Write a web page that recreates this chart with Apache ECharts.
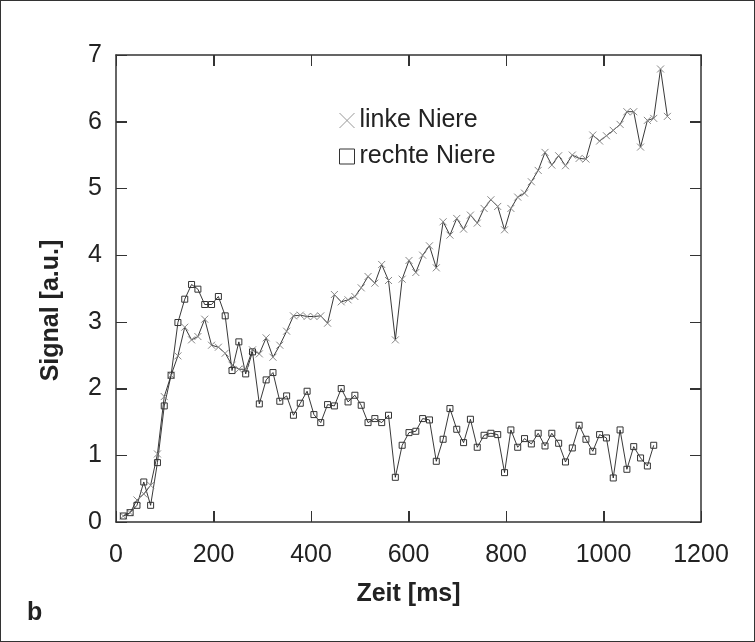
<!DOCTYPE html>
<html>
<head>
<meta charset="utf-8">
<script src="https://cdn.jsdelivr.net/npm/echarts@6/dist/echarts.min.js"></script>
<style>
html,body{margin:0;padding:0;background:#fff}
#wrap{position:relative;width:755px;height:642px}
#c{width:755px;height:642px}
#frame{position:absolute;left:0;top:0;width:753px;height:640px;border:1px solid #333;pointer-events:none}
</style>
</head>
<body>
<div id="wrap"><div id="c"></div><div id="frame"></div></div>
<script>
const times = [15,29,43,57,71,85,99,113,127,141,155,168,182,196,210,224,238,252,266,280,294,308,322,336,350,364,378,392,406,420,434,448,462,476,490,503,517,531,545,559,573,587,601,615,629,643,657,671,685,699,713,727,741,755,769,783,797,810,824,838,852,866,880,894,908,922,936,950,964,978,992,1006,1020,1034,1048,1062,1076,1090,1103,1117,1131];
const linke = [0.09,0.14,0.33,0.42,0.55,1.02,1.88,2.2,2.49,2.92,2.73,2.78,3.04,2.65,2.62,2.53,2.35,2.29,2.29,2.58,2.52,2.76,2.47,2.65,2.86,3.09,3.10,3.08,3.08,3.09,2.98,3.41,3.30,3.33,3.38,3.51,3.68,3.58,3.86,3.62,2.73,3.64,3.92,3.74,4.0,4.14,3.81,4.50,4.30,4.55,4.39,4.60,4.48,4.70,4.83,4.73,4.38,4.70,4.87,4.93,5.10,5.27,5.54,5.35,5.49,5.34,5.50,5.45,5.44,5.80,5.71,5.79,5.87,5.96,6.15,6.15,5.62,6.02,6.05,6.79,6.08];
const rechte = [0.09,0.14,0.25,0.6,0.25,0.89,1.74,2.2,2.99,3.34,3.56,3.49,3.26,3.26,3.38,3.09,2.27,2.70,2.22,2.55,1.77,2.13,2.24,1.81,1.89,1.60,1.78,1.96,1.61,1.49,1.76,1.74,2.0,1.80,1.90,1.75,1.49,1.55,1.49,1.60,0.67,1.15,1.34,1.36,1.55,1.53,0.91,1.24,1.70,1.39,1.19,1.54,1.12,1.30,1.33,1.31,0.74,1.38,1.12,1.25,1.17,1.33,1.14,1.33,1.18,0.90,1.11,1.45,1.24,1.06,1.31,1.26,0.66,1.38,0.79,1.13,0.96,0.84,1.15];
const xTickValues = [200, 400, 600, 800, 1000];
const yTickValues = [1, 2, 3, 4, 5, 6];
const seriesNames = ['linke Niere', 'rechte Niere'];
const xTitle = 'Zeit [ms]';
const yTitle = 'Signal [a.u.]';
const panelLabel = 'b';

const FONT = '"Liberation Sans", Arial, Helvetica, sans-serif';
const crossPath = 'path://M0,0L10,10M10,0L0,10';
const axisCol = '#333';
const xRange = [0, 1200, 200];
const yRange = [0, 7, 1];
const TICK_LEN = 11;

function mkAxis(range, pos, extra) {
  const a = {
    type: 'value', min: range[0], max: range[1], interval: range[2], position: pos,
    axisLine: {show: true, onZero: false, lineStyle: {color: axisCol, width: 1.5}},
    axisTick: {show: true, inside: true, length: TICK_LEN, lineStyle: {color: axisCol, width: 1}},
    splitLine: {show: false},
    axisLabel: {show: false}
  };
  return Object.assign(a, extra || {});
}

// tick marks on all four sides, placed through the axes' own scales
// each item: [x, y, direction]  direction 0 = up, 1 = down, 2 = right, 3 = left
const tickItems = [];
xTickValues.forEach(v => { tickItems.push([v, yRange[0], 0]); tickItems.push([v, yRange[1], 1]); });
yTickValues.forEach(v => { tickItems.push([xRange[0], v, 2]); tickItems.push([xRange[1], v, 3]); });
const DIRS = [[0, -1], [0, 1], [1, 0], [-1, 0]];

const chart = echarts.init(document.getElementById('c'), null, {renderer: 'canvas'});
chart.setOption({
  animation: false,
  backgroundColor: '#fff',
  title: {text: panelLabel, left: 22, top: 596, textStyle: {fontFamily: FONT, fontSize: 25, fontWeight: 'bold', color: '#222'}},
  grid: {left: 116, right: 54, top: 55, bottom: 120},
  xAxis: [
    mkAxis(xRange, 'bottom', {
      name: xTitle, nameLocation: 'middle', nameGap: 60,
      nameTextStyle: {fontFamily: FONT, fontSize: 25, fontWeight: 'bold', color: '#222'},
      axisLabel: {show: true, fontFamily: FONT, fontSize: 25, color: '#222', margin: 21, formatter: v => String(v)}
    }),
    mkAxis(xRange, 'top')
  ],
  yAxis: [
    mkAxis(yRange, 'left', {
      name: yTitle, nameLocation: 'middle', nameGap: 52,
      nameTextStyle: {fontFamily: FONT, fontSize: 25, fontWeight: 'bold', color: '#222', padding: [0, 44, 0, 0]},
      axisLabel: {show: true, fontFamily: FONT, fontSize: 25, color: '#222', margin: 14, formatter: v => String(v)}
    }),
    mkAxis(yRange, 'right')
  ],
  legend: {
    orient: 'vertical', left: 332, top: 103,
    itemWidth: 15, itemHeight: 15, itemGap: 11,
    textStyle: {fontFamily: FONT, fontSize: 25, color: '#222'},
    selectedMode: false,
    data: [
      {name: seriesNames[0], icon: crossPath, itemStyle: {color: 'none', borderColor: '#999', borderWidth: 1}},
      {name: seriesNames[1], icon: 'rect', itemStyle: {color: 'none', borderColor: '#333', borderWidth: 1}}
    ]
  },
  series: [
    {
      name: seriesNames[0], type: 'line',
      data: times.map((t, i) => [t, linke[i]]),
      symbol: crossPath, symbolSize: 7, showSymbol: true,
      lineStyle: {color: '#222', width: 0.9},
      itemStyle: {color: 'none', borderColor: '#888', borderWidth: 1}
    },
    {
      name: seriesNames[1], type: 'line',
      data: rechte.map((v, i) => [times[i], v]),
      symbol: 'rect', symbolSize: 6, showSymbol: true,
      lineStyle: {color: '#222', width: 0.9},
      itemStyle: {color: 'none', borderColor: '#333', borderWidth: 1}
    },
    {
      name: 'ticks', type: 'custom', silent: true, z: 20, clip: false,
      xAxisIndex: 0, yAxisIndex: 0,
      data: tickItems,
      renderItem: function (params, api) {
        const p = api.coord([api.value(0), api.value(1)]);
        const d = DIRS[api.value(2)];
        const x0 = d[0] === 0 ? Math.round(p[0]) + 0.5 : p[0];
        const y0 = d[1] === 0 ? Math.round(p[1]) + 0.5 : p[1];
        return {
          type: 'line',
          shape: {x1: x0, y1: y0, x2: x0 + d[0] * TICK_LEN, y2: y0 + d[1] * TICK_LEN},
          style: {stroke: axisCol, lineWidth: 1}
        };
      }
    }
  ]
});
</script>
</body>
</html>
